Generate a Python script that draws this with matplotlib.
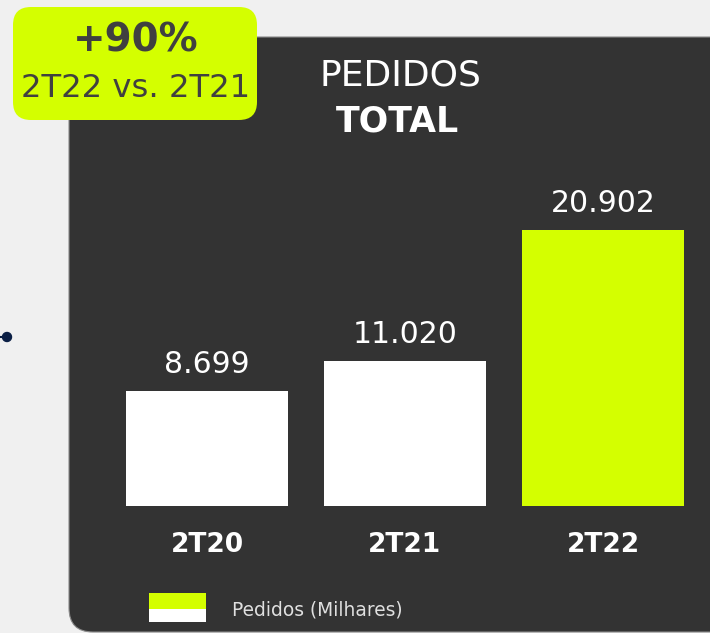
import matplotlib
matplotlib.use("Agg")
import matplotlib.pyplot as plt
from matplotlib.patches import FancyBboxPatch, Rectangle, Circle

plt.rcParams['font.family'] = ['DejaVu Sans']

categories = ["2T20", "2T21", "2T22"]
values = [8.699, 11.020, 20.902]
value_labels = ["8.699", "11.020", "20.902"]
bar_colors = ["#ffffff", "#ffffff", "#d4ff00"]
title_top = "PEDIDOS"
title_bottom = "TOTAL"
badge_top = "+90%"
badge_bottom = "2T22 vs. 2T21"
legend_label = "Pedidos (Milhares)"

W, H = 710, 633
LIME = "#d4ff00"
PANEL = "#333333"
BG = "#f0f0f0"
PX2PT = 72 / 100

fig = plt.figure(figsize=(W / 100, H / 100), dpi=100)
fig.patch.set_facecolor(BG)

bg = fig.add_axes([0, 0, 1, 1])
bg.set_xlim(0, W)
bg.set_ylim(H, 0)
bg.axis("off")

# dark panel (extends past the right edge)
panel = FancyBboxPatch((69, 37), 900, 595, boxstyle="round,pad=0,rounding_size=24",
                       facecolor=PANEL, edgecolor="#8a8a8a", linewidth=0.8)
bg.add_patch(panel)

# connector dot
bg.plot([0, 7], [337, 337], color="#0b1f45", lw=1.5)
bg.add_patch(Circle((7, 337), 4.5, color="#0b1f45"))

# badge
badge = FancyBboxPatch((13, 7), 244, 113, boxstyle="round,pad=0,rounding_size=18",
                       facecolor=LIME, edgecolor="none")
bg.add_patch(badge)
bg.text(136, 52, badge_top, ha="center", va="baseline", fontsize=28, fontweight="bold", color="#404040")
bg.text(136, 97, badge_bottom, ha="center", va="baseline", fontsize=23.2, color="#404040")

# titles
bg.text(400, 86, title_top, ha="center", va="baseline", fontsize=26, color="white")
bg.text(397, 131.5, title_bottom, ha="center", va="baseline", fontsize=25, fontweight="bold", color="white")

# legend
bg.add_patch(Rectangle((149, 593), 57, 16, facecolor=LIME, edgecolor="none"))
bg.add_patch(Rectangle((149, 609), 57, 13, facecolor="white", edgecolor="none"))
bg.text(232, 610, legend_label, ha="left", va="center", fontsize=13.4, color="#e0e0e0")

# bar axes
px_per_unit = 13.2
ymax = 27
base_px = 506
spacing = 198
x0_px = 207
xmin, xmax = -0.6, 2.6
left_px = x0_px + xmin * spacing
width_px = (xmax - xmin) * spacing
height_px = ymax * px_per_unit
ax = fig.add_axes([left_px / W, (H - base_px) / H, width_px / W, height_px / H])
ax.set_xlim(xmin, xmax)
ax.set_ylim(0, ymax)
ax.axis("off")
xs = list(range(len(categories)))
ax.bar(xs, values, width=162 / spacing, color=bar_colors)
for x, v, lab in zip(xs, values, value_labels):
    ax.annotate(lab, (x, v), xytext=(0, 18 * PX2PT), textcoords="offset points",
                ha="center", va="baseline", fontsize=21.5, color="white")
    ax.annotate(categories[x], (x, 0), xytext=(0, -46 * PX2PT), textcoords="offset points",
                ha="center", va="baseline", fontsize=19, fontweight="bold", color="white")

fig.savefig("out.png", dpi=100, facecolor=BG)
